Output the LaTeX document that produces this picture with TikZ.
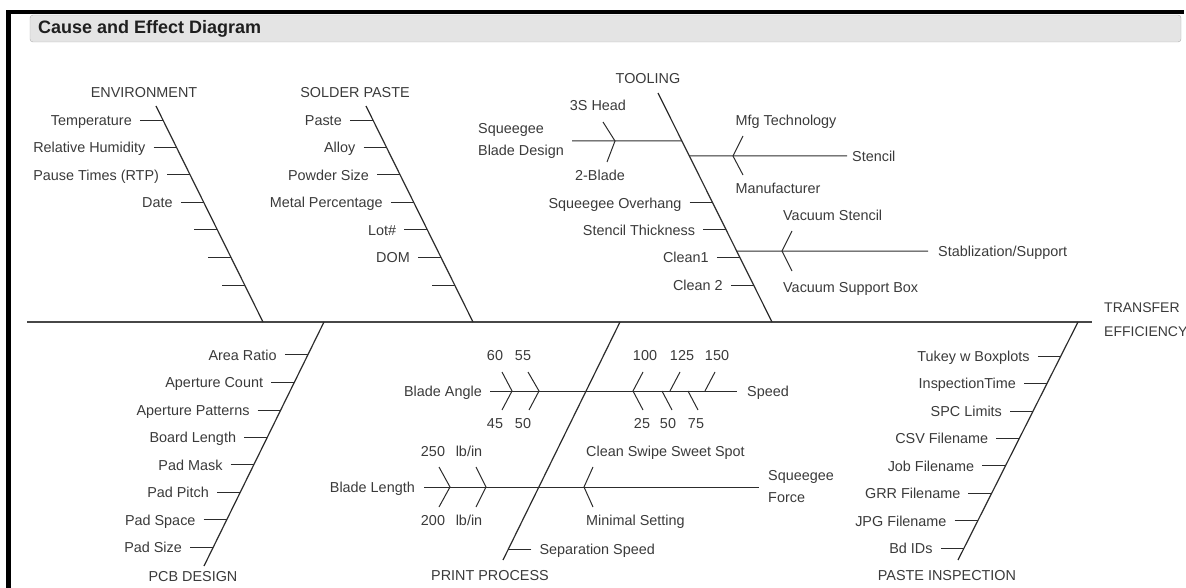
\documentclass[tikz,border=0pt]{standalone}
\usepackage{fontspec}
\setmainfont{Liberation Sans}
\usetikzlibrary{positioning}
\definecolor{fishline}{HTML}{2C2C2C}
\definecolor{fishspine}{HTML}{474747}
\definecolor{fishtext}{HTML}{3A3A3A}
\definecolor{barfill}{HTML}{E4E4E4}
\definecolor{barline}{HTML}{AFAFAF}
\tikzset{
  spine/.style={draw=fishspine, line width=1.8pt},
  bone/.style={draw=fishline, line width=1.2pt},
  rib/.style={draw=fishline, line width=1pt},
  tick/.style={rib, shorten <=8pt},
  cause/.style={font=\fontsize{14.4}{16}\selectfont, text=fishtext, inner sep=0pt,
    text height=10.3pt, text depth=0pt},
  twoline/.style={font=\fontsize{14.4}{22}\selectfont, text=fishtext, inner sep=0pt, align=left},
}

\begin{document}
\begin{tikzpicture}[x=1pt, y=-1pt]
\useasboundingbox (0,0) rectangle (1186,588);
% frame and title bar
\fill[black] (6,10) rectangle (1184,14);
\fill[black] (6,10) rectangle (11,588);
\draw[fill=barfill, draw=barline, rounded corners=3pt] (30,15) rectangle (1181,42);
\node[anchor=west, inner sep=0pt, text=black!88, font=\fontsize{18}{20}\selectfont\bfseries] (title) at (38,28.5) {Cause and Effect Diagram};

% spine and effect
\coordinate (tail) at (27,322);
\coordinate (head) at (1092,322);
\draw[spine] (tail) -- (head);
\node[twoline, font=\fontsize{14}{24}\selectfont, anchor=west] (effect) at (1104,320) {TRANSFER\\EFFICIENCY};

% ENVIRONMENT
\node[cause] (env) at (144,92) {ENVIRONMENT};
\coordinate (envtop) at (156,106);
\coordinate (envfoot) at (263,322);
\draw[bone] (envtop) -- coordinate[pos=.065] (env1) coordinate[pos=.192] (env2)
  coordinate[pos=.319] (env3) coordinate[pos=.447] (env4) coordinate[pos=.574] (env5)
  coordinate[pos=.701] (env6) coordinate[pos=.829] (env7) (envfoot);
\node[cause, left=31pt of env1] (temp) {Temperature};
\node[cause, left=31pt of env2] (humid) {Relative Humidity};
\node[cause, left=31pt of env3] (pause) {Pause Times (RTP)};
\node[cause, left=31pt of env4] (date) {Date};
\draw[tick] (temp) -- (env1);
\draw[tick] (humid) -- (env2);
\draw[tick] (pause) -- (env3);
\draw[tick] (date) -- (env4);
\draw[rib] (env5) -- ++(-23,0);
\draw[rib] (env6) -- ++(-23,0);
\draw[rib] (env7) -- ++(-23,0);

% SOLDER PASTE
\node[cause] (solder) at (355,92) {SOLDER PASTE};
\coordinate (soldtop) at (366,106);
\coordinate (soldfoot) at (473,322);
\draw[bone] (soldtop) -- coordinate[pos=.065] (sold1) coordinate[pos=.192] (sold2)
  coordinate[pos=.319] (sold3) coordinate[pos=.447] (sold4) coordinate[pos=.574] (sold5)
  coordinate[pos=.701] (sold6) coordinate[pos=.829] (sold7) (soldfoot);
\node[cause, left=31pt of sold1] (paste) {Paste};
\node[cause, left=31pt of sold2] (alloy) {Alloy};
\node[cause, left=31pt of sold3] (powder) {Powder Size};
\node[cause, left=31pt of sold4] (metal) {Metal Percentage};
\node[cause, left=31pt of sold5] (lot) {Lot\#};
\node[cause, left=31pt of sold6] (dom) {DOM};
\draw[tick] (paste) -- (sold1);
\draw[tick] (alloy) -- (sold2);
\draw[tick] (powder) -- (sold3);
\draw[tick] (metal) -- (sold4);
\draw[tick] (lot) -- (sold5);
\draw[tick] (dom) -- (sold6);
\draw[rib] (sold7) -- ++(-23,0);

% TOOLING
\node[cause] (tool) at (648,78) {TOOLING};
\coordinate (tooltop) at (658,93);
\coordinate (toolfoot) at (772,322);
\draw[bone] (tooltop) -- coordinate[pos=.2096] (tool1) coordinate[pos=.275] (tool2)
  coordinate[pos=.480] (tool3) coordinate[pos=.598] (tool4) coordinate[pos=.690] (tool5)
  coordinate[pos=.718] (tool6) coordinate[pos=.841] (tool7) (toolfoot);
% squeegee blade design
\node[twoline, anchor=east] (bladedes) at (564,141) {Squeegee\\Blade Design};
\draw[tick] (bladedes) -- (tool1);
\node[cause] (head3s) at (598,105) {3S Head};
\node[cause] (blade2) at (600,175) {2-Blade};
\coordinate (bdv) at (615,141);
\coordinate (bdup) at (603,122);
\coordinate (bddown) at (607,162);
\draw[rib] (bdup) -- (bdv) -- (bddown);
% stencil
\node[cause, anchor=west] (stencil) at (852,156) {Stencil};
\draw[rib, shorten >=5pt] (tool2) -- (stencil);
\node[cause] (mfg) at (786,120) {Mfg Technology};
\node[cause] (manuf) at (778,188) {Manufacturer};
\coordinate (stv) at (733,156);
\coordinate (stup) at (743,136);
\coordinate (stdown) at (743,175);
\draw[rib] (stup) -- (stv) -- (stdown);
% ribs
\node[cause, left=31pt of tool3] (overhang) {Squeegee Overhang};
\node[cause, left=31pt of tool4] (thick) {Stencil Thickness};
\node[cause, left=31pt of tool6] (clean1) {Clean1};
\node[cause, left=31pt of tool7] (clean2) {Clean 2};
\draw[tick] (overhang) -- (tool3);
\draw[tick] (thick) -- (tool4);
\draw[tick] (clean1) -- (tool6);
\draw[tick] (clean2) -- (tool7);
% stabilization
\node[cause, anchor=west] (stab) at (938,251) {Stablization/Support};
\draw[rib, shorten >=10pt] (tool5) -- (stab);
\node[cause, anchor=west] (vacst) at (783,215) {Vacuum Stencil};
\node[cause, anchor=west] (vacbox) at (783,287) {Vacuum Support Box};
\coordinate (sbv) at (782,251);
\coordinate (sbup) at (792,231);
\coordinate (sbdown) at (792,271);
\draw[rib] (sbup) -- (sbv) -- (sbdown);

% PCB DESIGN
\node[cause] (pcb) at (193,576) {PCB DESIGN};
\coordinate (pcbhead) at (324,322);
\coordinate (pcbfoot) at (204,566);
\draw[bone] (pcbhead) -- coordinate[pos=.135] (pcb1) coordinate[pos=.248] (pcb2)
  coordinate[pos=.361] (pcb3) coordinate[pos=.473] (pcb4) coordinate[pos=.586] (pcb5)
  coordinate[pos=.699] (pcb6) coordinate[pos=.811] (pcb7) coordinate[pos=.924] (pcb8) (pcbfoot);
\node[cause, left=31pt of pcb1] (area) {Area Ratio};
\node[cause, left=31pt of pcb2] (apcount) {Aperture Count};
\node[cause, left=31pt of pcb3] (appat) {Aperture Patterns};
\node[cause, left=31pt of pcb4] (boardlen) {Board Length};
\node[cause, left=31pt of pcb5] (padmask) {Pad Mask};
\node[cause, left=31pt of pcb6] (padpitch) {Pad Pitch};
\node[cause, left=31pt of pcb7] (padspace) {Pad Space};
\node[cause, left=31pt of pcb8] (padsize) {Pad Size};
\draw[tick] (area) -- (pcb1);
\draw[tick] (apcount) -- (pcb2);
\draw[tick] (appat) -- (pcb3);
\draw[tick] (boardlen) -- (pcb4);
\draw[tick] (padmask) -- (pcb5);
\draw[tick] (padpitch) -- (pcb6);
\draw[tick] (padspace) -- (pcb7);
\draw[tick] (padsize) -- (pcb8);

% PRINT PROCESS
\node[cause] (print) at (490,575) {PRINT PROCESS};
\coordinate (prhead) at (620,322);
\coordinate (prfoot) at (503,560);
\draw[bone] (prhead) -- coordinate[pos=.954] (pr1) (prfoot);
\node[cause, right=31pt of pr1] (sepspeed) {Separation Speed};
\draw[tick] (sepspeed) -- (pr1);
% blade angle / speed
\node[cause, anchor=east] (bangle) at (482,391) {Blade Angle};
\node[cause, anchor=west] (speed) at (747,391) {Speed};
\draw[rib, shorten <=8pt, shorten >=10pt] (bangle) -- (speed);
\node[cause] (a60) at (495,355) {60};
\node[cause] (a55) at (523,355) {55};
\node[cause] (a45) at (495,423) {45};
\node[cause] (a50) at (523,423) {50};
\coordinate (av1) at (512,391);
\coordinate (av2) at (539,391);
\coordinate (a60t) at (502,372);
\coordinate (a45t) at (502,410);
\coordinate (a55t) at (528,372);
\coordinate (a50t) at (529,410);
\draw[rib] (a60t) -- (av1) -- (a45t);
\draw[rib] (a55t) -- (av2) -- (a50t);
\node[cause] (s100) at (645,355) {100};
\node[cause] (s125) at (682,355) {125};
\node[cause] (s150) at (717,355) {150};
\node[cause] (s25) at (642,423) {25};
\node[cause] (s50) at (668,423) {50};
\node[cause] (s75) at (696,423) {75};
\coordinate (sv100) at (633,391);
\coordinate (sv125) at (670,391);
\coordinate (sv150) at (705,391);
\coordinate (sv50) at (662,391);
\coordinate (sv75) at (688,391);
\coordinate (s100t) at (643,372);
\coordinate (s125t) at (680,372);
\coordinate (s150t) at (715,372);
\coordinate (s25t) at (643,410);
\coordinate (s50t) at (672,410);
\coordinate (s75t) at (698,410);
\draw[rib] (s100t) -- (sv100) -- (s25t);
\draw[rib] (s125t) -- (sv125);
\draw[rib] (s150t) -- (sv150);
\draw[rib] (sv50) -- (s50t);
\draw[rib] (sv75) -- (s75t);
% blade length / squeegee force
\node[cause, anchor=east] (blength) at (415,487) {Blade Length};
\node[twoline, anchor=west] (sqforce) at (768,487) {Squeegee\\Force};
\draw[rib, shorten <=9pt, shorten >=9pt] (blength) -- (sqforce);
\node[cause] (l250) at (433,451) {250};
\node[cause] (l200) at (433,520) {200};
\node[cause] (lbin1) at (469,451) {lb/in};
\node[cause] (lbin2) at (469,520) {lb/in};
\coordinate (lv1) at (450,487);
\coordinate (lv2) at (486,487);
\coordinate (l250t) at (439,467);
\coordinate (l200t) at (439,507);
\coordinate (lbin1t) at (476,467);
\coordinate (lbin2t) at (476,507);
\draw[rib] (l250t) -- (lv1) -- (l200t);
\draw[rib] (lbin1t) -- (lv2) -- (lbin2t);
\node[cause, anchor=west] (sweet) at (586,451) {Clean Swipe Sweet Spot};
\node[cause, anchor=west] (minimal) at (586,520) {Minimal Setting};
\coordinate (fv) at (584,487);
\coordinate (sweett) at (593,467);
\coordinate (minimalt) at (593,507);
\draw[rib] (sweett) -- (fv) -- (minimalt);

% PASTE INSPECTION
\node[cause] (inspect) at (947,575) {PASTE INSPECTION};
\coordinate (pihead) at (1078,322);
\coordinate (pifoot) at (958,560);
\draw[bone] (pihead) -- coordinate[pos=.143] (pi1) coordinate[pos=.258] (pi2)
  coordinate[pos=.374] (pi3) coordinate[pos=.489] (pi4) coordinate[pos=.605] (pi5)
  coordinate[pos=.721] (pi6) coordinate[pos=.836] (pi7) coordinate[pos=.952] (pi8) (pifoot);
\node[cause, left=31pt of pi1] (tukey) {Tukey w Boxplots};
\node[cause, left=31pt of pi2] (insptime) {InspectionTime};
\node[cause, left=31pt of pi3] (spc) {SPC Limits};
\node[cause, left=31pt of pi4] (csv) {CSV Filename};
\node[cause, left=31pt of pi5] (job) {Job Filename};
\node[cause, left=31pt of pi6] (grr) {GRR Filename};
\node[cause, left=31pt of pi7] (jpg) {JPG Filename};
\node[cause, left=31pt of pi8] (bdids) {Bd IDs};
\draw[tick] (tukey) -- (pi1);
\draw[tick] (insptime) -- (pi2);
\draw[tick] (spc) -- (pi3);
\draw[tick] (csv) -- (pi4);
\draw[tick] (job) -- (pi5);
\draw[tick] (grr) -- (pi6);
\draw[tick] (jpg) -- (pi7);
\draw[tick] (bdids) -- (pi8);
\end{tikzpicture}
\end{document}
